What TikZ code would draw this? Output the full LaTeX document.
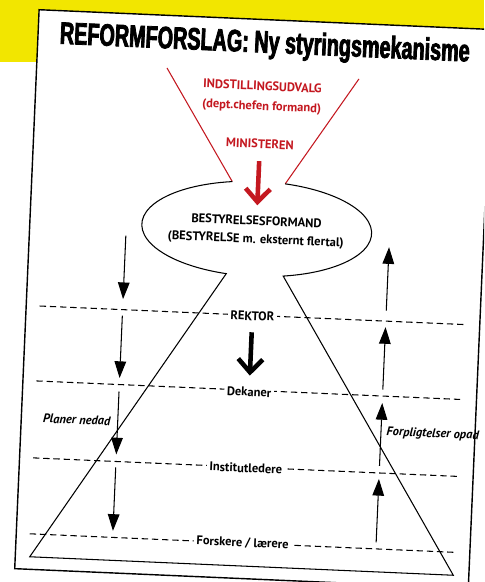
\documentclass[tikz,border=0pt]{standalone}
\usepackage{fontspec}
\usetikzlibrary{arrows.meta}
\setmainfont{PT Sans}
\newfontfamily\titlefont{Liberation Sans}[UprightFont={* Bold},FakeStretch=0.64,FakeBold=2.5]
\definecolor{gul}{RGB}{242,230,0}
\definecolor{rod}{RGB}{196,24,32}

\begin{document}
\begin{tikzpicture}[x=0.02cm,y=-0.02cm,
tekst/.style={font=\fontsize{7.1}{8}\selectfont\bfseries,inner sep=1pt},
rodtekst/.style={tekst,text=rod},
niveau/.style={tekst,fill=white,inner sep=1.5pt},
kursiv/.style={tekst,font=\fontsize{7.1}{8}\selectfont\bfseries\itshape},
linje/.style={line width=0.6pt,dash pattern=on 3.6pt off 2.2pt},
pil/.style={line width=0.6pt,-{Triangle[width=6.6pt,length=9.5pt]}},
storpil/.style={line width=2.6pt,-{Straight Barb[length=7.5pt,width=14pt]}}]
\clip (0,0) rectangle (484,582);
\fill[gul] (0,0) rectangle (484,62);
\begin{scope}[rotate=-2.5,transform shape]
\filldraw[fill=white,line width=0.8pt] (39.5,8) rectangle (493.5,567.5);
\node[anchor=base,font=\titlefont\fontsize{17.6}{18}\selectfont] (title) at (266.5,41) {REFORMFORSLAG: Ny styringsmekanisme};
% tragten
\coordinate (tv) at (169.8,60.6);
\coordinate (th) at (362.1,63.2);
\coordinate (e1) at (240,171.3);
\coordinate (e4) at (293,171.3);
\draw[rod,line width=0.6pt] (tv) -- (e1);
\draw[rod,line width=0.6pt] (th) -- (e4);
\node[rodtekst] (udvalg) at (266,74.5) {INDSTILLINGSUDVALG};
\node[rodtekst] (chef) at (266,95.5) {(dept.chefen formand)};
\node[rodtekst] (minister) at (266,132.5) {MINISTEREN};
% ellipse + trapez
\coordinate (e2) at (238,263.5);
\coordinate (e3) at (295,263.5);
\coordinate (bv) at (54,555);
\coordinate (bh) at (478,555);
\draw[line width=0.6pt] (e1) arc[start angle=256.68,end angle=104.35,x radius=115,y radius=47.5] -- (bv) -- (bh) -- (e3) arc[start angle=75.65,end angle=-76.68,x radius=115,y radius=47.5];
\node[tekst] (formand) at (266,209.3) {BESTYRELSESFORMAND};
\node[tekst] (bestyrelse) at (266,228.7) {(BESTYRELSE m. eksternt flertal)};
\draw[storpil,rod,shorten <=6pt,shorten >=5pt] (minister) -- (formand);
% niveauer
\draw[linje] (53,304) -- (479,304);
\draw[linje] (53,379) -- (479,379);
\draw[linje] (53,456) -- (479,456);
\draw[linje] (53,532) -- (479,532);
\node[niveau] (rektor) at (266,304.7) {REKTOR};
\node[niveau] (dekaner) at (266,380.7) {Dekaner};
\node[niveau] (institut) at (266,456.9) {Institutledere};
\node[niveau] (forskere) at (266,532) {Forskere / lærere};
\draw[storpil,shorten <=5pt,shorten >=5pt] (rektor) -- (dekaner);
% pile ned og op
\foreach \a/\b [count=\i] in {230/293.5,310/372.5,386/449,462/525.5}{
\coordinate (nv\i) at (136,\a);
\coordinate (nb\i) at (136,\b);
\coordinate (ov\i) at (399.5,\a);
\coordinate (ob\i) at (399.5,\b);
\draw[pil] (nv\i) -- (nb\i);
\draw[pil] (ob\i) -- (ov\i);
}
\node[kursiv] (planer) at (95,416) {Planer nedad};
\node[kursiv,anchor=west] (forpligt) at (403,415) {Forpligtelser opad};
\end{scope}
\end{tikzpicture}
\end{document}
